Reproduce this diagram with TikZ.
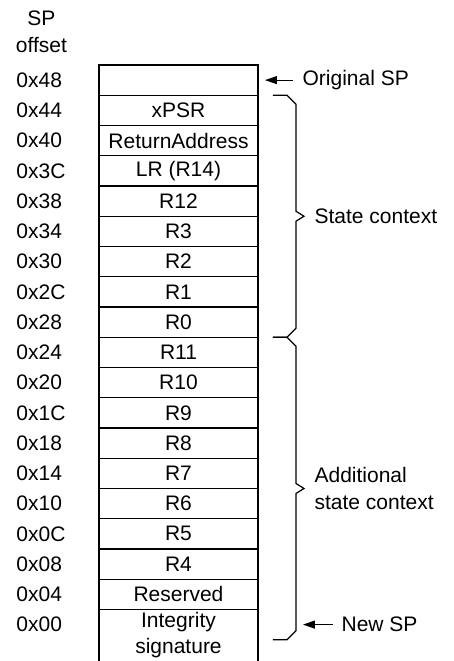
\documentclass[tikz,border=0pt]{standalone}
\usepackage{fontspec}
\setmainfont{Liberation Sans}
\usetikzlibrary{positioning,calc,arrows.meta}

\tikzset{
  every node/.style={font=\fontsize{10.5pt}{13.25pt}\selectfont},
  cell/.style={draw, rectangle, minimum width=79.5pt, minimum height=15.125pt,
    inner sep=0pt, outer sep=0pt},
  offlbl/.style={text width=25pt, align=left, inner sep=0pt},
  note/.style={inner sep=0pt, align=left},
  ptr/.style={-{Triangle[length=6pt,width=4pt]}},
}

% angular brace right of the stack, #3 names its tip
\newcommand{\framebrace}[3]{%
  \draw let \p1=(#1), \p2=(#2), \p3=($(#1)!.5!(#2)$) in
    (\x1+7.5pt,\y1) -- (\x1+14.5pt,\y1) -- (\x1+19pt,\y1-4.5pt)
    -- (\x1+19pt,\y3+2.5pt) -- (\x1+23pt,\y3) coordinate (#3)
    -- (\x1+19pt,\y3-2.5pt) -- (\x1+19pt,\y2+4.5pt)
    -- (\x1+14.5pt,\y2) -- (\x1+7.5pt,\y2);}

\begin{document}
\begin{tikzpicture}[line width=0.6pt]
    \useasboundingbox (-89.25pt,-290.45pt) rectangle (137.75pt,40.05pt);

    % Stack frame
    \node[cell]                   (r48) {};
    \node[cell, below=0pt of r48] (r44) {xPSR};
    \node[cell, below=0pt of r44] (r40) {ReturnAddress};
    \node[cell, below=0pt of r40] (r3C) {LR (R14)};
    \node[cell, below=0pt of r3C] (r38) {R12};
    \node[cell, below=0pt of r38] (r34) {R3};
    \node[cell, below=0pt of r34] (r30) {R2};
    \node[cell, below=0pt of r30] (r2C) {R1};
    \node[cell, below=0pt of r2C] (r28) {R0};
    \node[cell, below=0pt of r28] (r24) {R11};
    \node[cell, below=0pt of r24] (r20) {R10};
    \node[cell, below=0pt of r20] (r1C) {R9};
    \node[cell, below=0pt of r1C] (r18) {R8};
    \node[cell, below=0pt of r18] (r14) {R7};
    \node[cell, below=0pt of r14] (r10) {R6};
    \node[cell, below=0pt of r10] (r0C) {R5};
    \node[cell, below=0pt of r0C] (r08) {R4};
    \node[cell, below=0pt of r08] (r04) {Reserved};
    \node[cell, draw=none, align=center, minimum height=25.75pt,
          below=0pt of r04]       (sig) {Integrity\\signature};
    \draw (sig.south west) -- (sig.north west) -- (sig.north east) -- (sig.south east);

    % Offsets
    \node[offlbl, left=16pt of r48] (o48) {0x48};
    \node[offlbl, left=16pt of r44] (o44) {0x44};
    \node[offlbl, left=16pt of r40] (o40) {0x40};
    \node[offlbl, left=16pt of r3C] (o3C) {0x3C};
    \node[offlbl, left=16pt of r38] (o38) {0x38};
    \node[offlbl, left=16pt of r34] (o34) {0x34};
    \node[offlbl, left=16pt of r30] (o30) {0x30};
    \node[offlbl, left=16pt of r2C] (o2C) {0x2C};
    \node[offlbl, left=16pt of r28] (o28) {0x28};
    \node[offlbl, left=16pt of r24] (o24) {0x24};
    \node[offlbl, left=16pt of r20] (o20) {0x20};
    \node[offlbl, left=16pt of r1C] (o1C) {0x1C};
    \node[offlbl, left=16pt of r18] (o18) {0x18};
    \node[offlbl, left=16pt of r14] (o14) {0x14};
    \node[offlbl, left=16pt of r10] (o10) {0x10};
    \node[offlbl, left=16pt of r0C] (o0C) {0x0C};
    \node[offlbl, left=16pt of r08] (o08) {0x08};
    \node[offlbl, left=16pt of r04] (o04) {0x04};
    \node[offlbl, left=16pt of sig.north west, yshift=-7.5625pt] (o00) {0x00};
    \node[align=center, inner sep=0pt] (hdr) at ([yshift=24.25pt]o48.center) {SP\\offset};

    % Braces
    \coordinate (ctxend) at ([yshift=-15.125pt]sig.north east);
    \framebrace{r44.north east}{r28.south east}{stip}
    \framebrace{r24.north east}{ctxend}{atip}
    \node[note, right=5pt of stip] (stxt) {State context};
    \node[note, right=5pt of atip] (atxt) {Additional\\state context};

    % Stack pointers
    \node[note, right=22pt of r48] (origsp) {Original SP};
    \draw[ptr, shorten <=4.5pt, shorten >=3.5pt] (origsp) -- (r48);
    \node[note, right=41.5pt of sig.north east, yshift=-7.5625pt] (newsp) {New SP};
    \draw[ptr, shorten <=4pt, shorten >=22.5pt] (newsp.west) -- (newsp.west -| sig.east);

\end{tikzpicture}
\end{document}
